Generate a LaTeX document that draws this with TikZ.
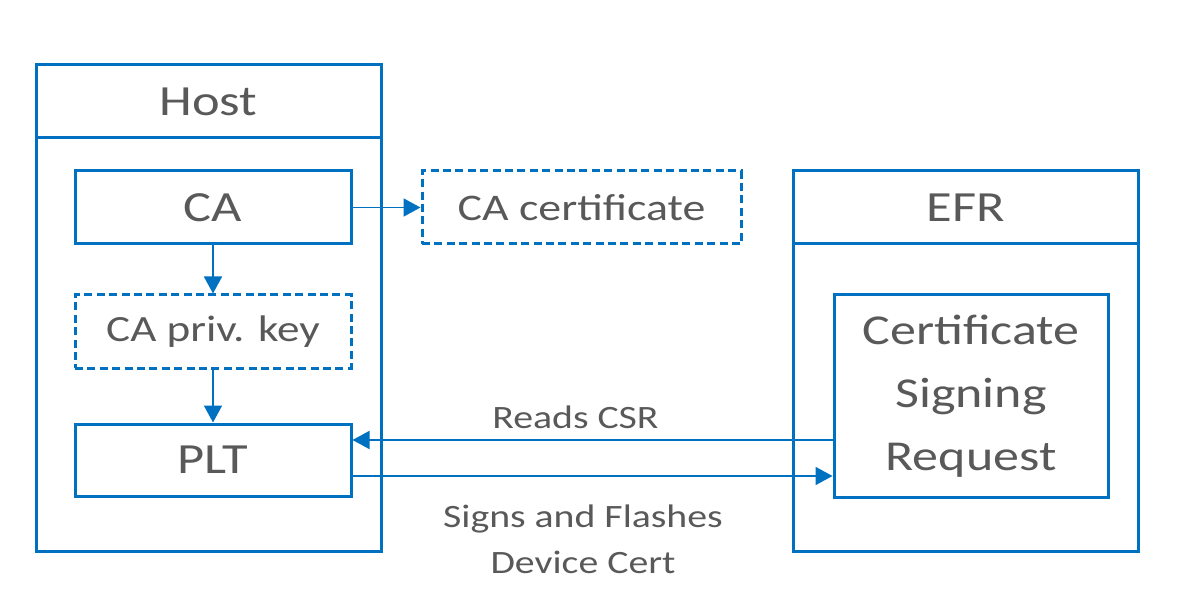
\documentclass[tikz,border=0pt]{standalone}
\usepackage{fontspec}
\setmainfont{Carlito}[FakeStretch=1.22]
\usetikzlibrary{arrows.meta}
\definecolor{lineBlue}{HTML}{0070C0}
\definecolor{textGrey}{HTML}{595959}

\begin{document}
\begin{tikzpicture}[x=0.5pt, y=-0.5pt,
    box/.style={draw=lineBlue, line width=1.5pt, inner sep=0pt, text=textGrey,
        font=\fontsize{21.5}{32}\selectfont, align=center},
    dashbox/.style={box, dash pattern=on 4pt off 2.2pt},
    flow/.style={draw=lineBlue, line width=0.9pt,
        -{Triangle[length=8.5pt,width=9pt]}},
    lbl/.style={text=textGrey, font=\fontsize{16.3}{23}\selectfont, align=center, inner sep=0pt}]

\useasboundingbox (0,0) rectangle (1178,593);

% outer frames
\node[box, minimum width=172.5pt, minimum height=243pt] (cHostFrame) at (208.5,308) {};
\node[box, minimum width=172.5pt, minimum height=36.5pt] (cHost) at (208.5,101.5) {Host};
\node[box, minimum width=172.5pt, minimum height=190pt] (cEfrFrame) at (965.5,361) {};
\node[box, minimum width=172.5pt, minimum height=36.5pt] (cEfr) at (965.5,207.5) {EFR};

% boxes
\node[box, minimum width=138pt, minimum height=36.5pt] (cCA) at (213,207.5) {CA};
\node[dashbox, minimum width=138pt, minimum height=36.5pt,
    font=\fontsize{18.5}{20}\selectfont] (cKey) at (213,331.5) {CA priv. key};
\node[box, minimum width=138pt, minimum height=36pt] (cPLT) at (213,460) {PLT};
\node[dashbox, minimum width=159.5pt, minimum height=36.5pt,
    font=\fontsize{18.8}{20}\selectfont] (cCert) at (581.5,207.5) {CA certificate};
\node[box, minimum width=137pt, minimum height=101pt,
    font=\fontsize{21.3}{31.5}\selectfont] (cCSR) at (971,396) {Certificate\\Signing\\Request};

% connectors
\draw[flow] (cCA) -- (cCert);
\draw[flow] (cCA) -- (cKey);
\draw[flow] (cKey) -- (cPLT);
\draw[flow] ([yshift=10pt]cPLT.east -| cCSR.west) -- ([yshift=10pt]cPLT.east);
\draw[flow] ([yshift=-8pt]cPLT.east) -- ([yshift=-8pt]cPLT.east -| cCSR.west);

\node[lbl, anchor=base] (cReads) at (575.5,428) {Reads CSR};
\node[lbl, anchor=base] (cSigns) at (583,527) {Signs and Flashes};
\node[lbl, anchor=base] (cDevice) at (583,573) {Device Cert};

\end{tikzpicture}
\end{document}
